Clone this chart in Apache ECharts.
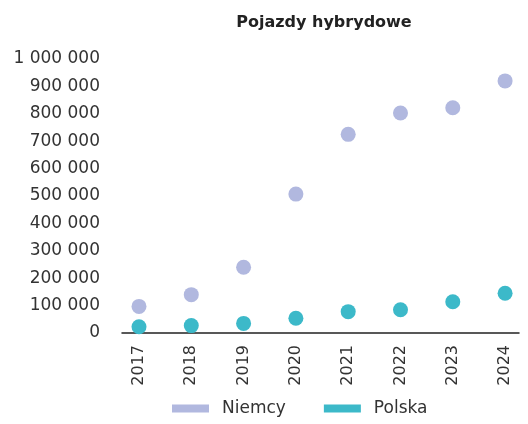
<!DOCTYPE html>
<html>
<head>
<meta charset="utf-8">
<script src="https://cdn.jsdelivr.net/npm/echarts@6/dist/echarts.min.js"></script>
<style>
  html, body { margin: 0; padding: 0; background: #fff; }
  #chart { width: 528px; height: 424px; }
</style>
</head>
<body>
<div id="chart"></div>
<script>
// dane
const years = ['2017', '2018', '2019', '2020', '2021', '2022', '2023', '2024'];
const niemcy = [97000, 140000, 240000, 507000, 725000, 803000, 822000, 920000];
const polska = [23000, 27000, 35000, 54000, 78000, 85000, 114000, 145000];
const yTicks = [0, 100000, 200000, 300000, 400000, 500000, 600000, 700000, 800000, 900000, 1000000];

const font = '"DejaVu Sans", sans-serif';
const fmt = v => String(v).replace(/\B(?=(\d{3})+(?!\d))/g, ' ');
const idx = years.map((y, i) => i);

const chart = echarts.init(document.getElementById('chart'));
chart.setOption({
    animation: false,
    title: {
        text: 'Pojazdy hybrydowe',
        left: 319, top: 10, textAlign: 'center',
        textStyle: { fontFamily: font, fontSize: 16, fontWeight: 'bold', color: '#222' }
    },
    legend: {
        bottom: 2, left: 167,
        itemWidth: 37, itemHeight: 8, itemGap: 38,
        icon: 'rect',
        textStyle: { fontFamily: font, fontSize: 17, color: '#333', padding: [0, 0, 0, 8] },
        data: ['Niemcy', 'Polska']
    },
    grid: { left: 122, right: 9, top: 59, bottom: 91 },
    xAxis: {
        type: 'value',
        min: -0.325, max: 7.266,
        splitLine: { show: false },
        axisLine: { show: true, onZero: false, lineStyle: { color: '#222', width: 1.5 } },
        axisTick: { show: false },
        axisLabel: {
            customValues: idx,
            rotate: 90, margin: 12,
            fontFamily: font, fontSize: 16, color: '#333',
            formatter: v => years[Math.round(v)]
        }
    },
    yAxis: {
        type: 'value',
        min: yTicks[0], max: yTicks[yTicks.length - 1], interval: 100000,
        splitLine: { show: false },
        axisLine: { show: false },
        axisTick: { show: false },
        axisLabel: { margin: 22, fontFamily: font, fontSize: 17, color: '#333', formatter: fmt }
    },
    series: [
        {
            name: 'Niemcy', type: 'scatter', symbolSize: 15,
            itemStyle: { color: '#b1b8df', opacity: 1 },
            data: niemcy.map((v, i) => [i, v])
        },
        {
            name: 'Polska', type: 'scatter', symbolSize: 15,
            itemStyle: { color: '#3cb9c9', opacity: 1 },
            data: polska.map((v, i) => [i, v])
        }
    ]
});
</script>
</body>
</html>
